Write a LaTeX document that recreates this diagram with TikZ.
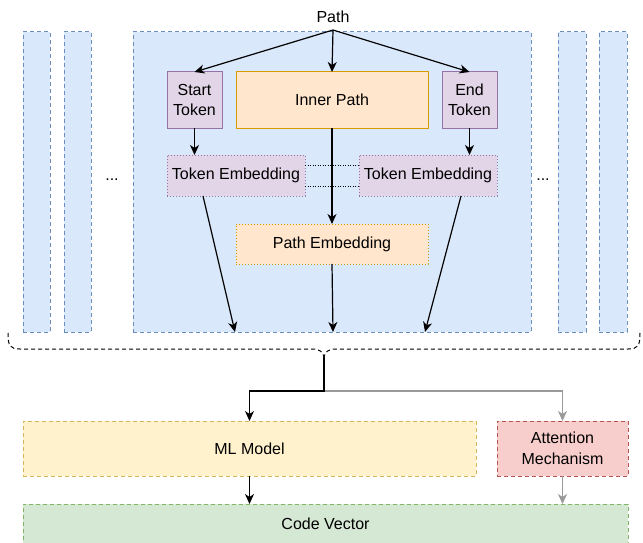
\documentclass[tikz,border=0pt]{standalone}
\usepackage{fontspec}
\setmainfont{Liberation Sans}
\usetikzlibrary{arrows.meta,calc}
\definecolor{bluef}{HTML}{DAE8FC}\definecolor{bluel}{HTML}{6C8EBF}
\definecolor{purf}{HTML}{E1D5E7}\definecolor{purl}{HTML}{9673A6}
\definecolor{orf}{HTML}{FFE6CC}\definecolor{orl}{HTML}{D79B00}
\definecolor{yelf}{HTML}{FFF2CC}\definecolor{yell}{HTML}{D6B656}
\definecolor{redf}{HTML}{F8CECC}\definecolor{redl}{HTML}{B85450}
\definecolor{grnf}{HTML}{D5E8D4}\definecolor{grnl}{HTML}{82B366}
\definecolor{arrgray}{HTML}{999999}
\begin{document}
\begin{tikzpicture}[x=1pt,y=-1pt,
  every node/.style={font=\fontsize{16}{20.5}\selectfont, inner sep=0pt, outer sep=0pt, align=center},
  box/.style={draw, line width=1pt, anchor=north west, minimum width=#1},
  colbox/.style={box=#1, fill=bluef, draw=bluel, dash pattern=on 4pt off 3pt},
  tokbox/.style={box=#1, fill=purf, draw=purl},
  tokemb/.style={box=#1, fill=purf, draw=purl, dash pattern=on 1pt off 2pt},
  orbox/.style={box=#1, fill=orf, draw=orl},
  orembox/.style={box=#1, fill=orf, draw=orl, dash pattern=on 1pt off 2pt},
  arr/.style={line width=1.2pt, -{Stealth[length=10pt,width=9pt,inset=3pt]}},
  garr/.style={arr, draw=arrgray},
  dotl/.style={line width=1pt, dash pattern=on 1pt off 1.5pt}
]
\useasboundingbox (0,0) rectangle (643,543);
% columns
\node[colbox=27pt, minimum height=300pt] (c1) at (23,32) {};
\node[colbox=27pt, minimum height=300pt] (c2) at (64,32) {};
\node[colbox=398pt, minimum height=300pt] (main) at (133,32) {};
\node[colbox=28pt, minimum height=300pt] (c4) at (558,32) {};
\node[colbox=28pt, minimum height=300pt] (c5) at (599,32) {};
\node (d1) at (112,180) {...};
\node (d2) at (543,180) {...};
% path
\node (path) at (333,17) {Path};
\coordinate (ps) at (333,30);
\node[tokbox=55pt, minimum height=56pt] (st) at (167,72) {Start\\Token};
\node[orbox=192pt, minimum height=56pt] (ip) at (236,72) {Inner Path};
\node[tokbox=55pt, minimum height=56pt] (et) at (442,72) {End\\Token};
\draw[arr] (ps) -- (st.north);
\draw[arr] (ps) -- (ip.north);
\draw[arr] (ps) -- (et.north);
\node[tokemb=138pt, minimum height=41pt] (te1) at (167,155) {Token Embedding};
\node[tokemb=138pt, minimum height=41pt] (te2) at (359,155) {Token Embedding};
\draw[arr] (st.south) -- (st.south |- te1.north);
\draw[arr] (et.south) -- (et.south |- te2.north);
\draw[dotl] ($(te1.north east)+(0,10)$) -- ($(te2.north west)+(0,10)$);
\draw[dotl] ($(te1.north east)+(0,31)$) -- ($(te2.north west)+(0,31)$);
\node[orembox=192pt, minimum height=40pt] (pe) at (236,224) {Path Embedding};
\draw[arr] (ip.south) -- (pe.north);
\coordinate (a1) at (203,196);
\coordinate (a3) at (461,196);
\coordinate (t1) at (235,332);
\coordinate (t2) at (333,332);
\coordinate (t3) at (425,332);
\draw[arr] (a1) -- (t1);
\draw[arr] (pe.south) -- (t2);
\draw[arr] (a3) -- (t3);
% brace
\coordinate (bt) at (324,357);
\draw[line width=1pt, dash pattern=on 4pt off 3pt]
  (8,333) .. controls (8,346) and (10,349) .. (20,349) -- (312,349)
  .. controls (320,349) and (323,352) .. (bt);
\draw[line width=1pt, dash pattern=on 4pt off 3pt]
  (640,333) .. controls (640,346) and (638,349) .. (628,349) -- (336,349)
  .. controls (328,349) and (325,352) .. (bt);
% bottom
\node[box=453pt, minimum height=55pt, fill=yelf, draw=yell, dash pattern=on 4pt off 3pt] (ml) at (23,421) {ML Model};
\node[box=131pt, minimum height=55pt, fill=redf, draw=redl, dash pattern=on 4pt off 3pt] (att) at (497,421) {Attention\\Mechanism};
\node[box=605pt, minimum height=39pt, fill=grnf, draw=grnl, dash pattern=on 4pt off 3pt] (cv) at (23,504) {Code Vector};
\coordinate (jn) at (324,391);
\draw[garr] (jn) -| (att.north);
\draw[arr] (bt) -- (jn) -| (ml.north);
\draw[arr] (ml.south) -- (ml.south |- cv.north);
\draw[garr] (att.south) -- (att.south |- cv.north);
\end{tikzpicture}
\end{document}
